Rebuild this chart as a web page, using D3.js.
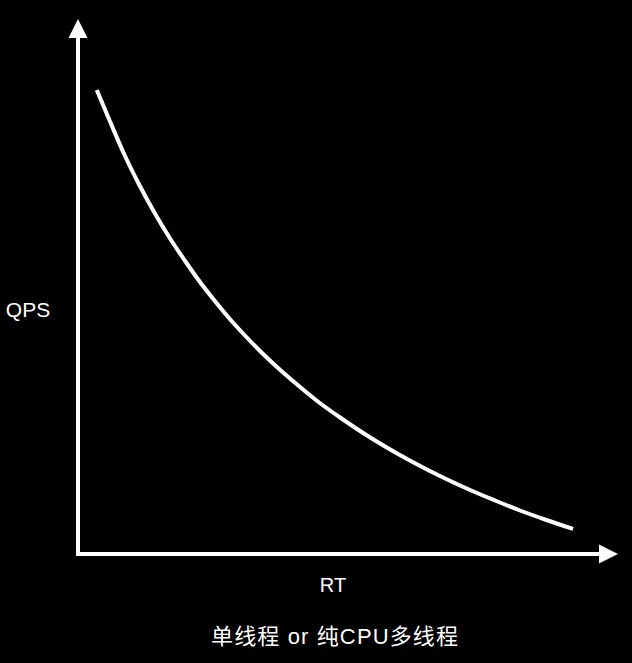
<!DOCTYPE html>
<html>
<head>
<meta charset="utf-8">
<script src="https://cdn.jsdelivr.net/npm/d3@7"></script>
<style>
html,body{margin:0;padding:0;background:#000;}
svg{display:block;}
</style>
</head>
<body>
<svg id="chart" width="632" height="663"></svg>
<script>
// Data (abstract units)
const rtValues  = [3.6, 6.2, 9.0, 11.7, 14.8, 17.7, 20.6, 23.1, 26.4, 29.2, 32.1, 35.0, 38.9, 42.7, 46.5, 50.4, 56.2, 61.9, 65.8, 70.6, 75.4, 80.2, 85.0, 89.8, 95.2];
const qpsValues = [92.8, 86.4, 79.7, 74.0, 68.1, 63.1, 58.6, 54.9, 50.5, 47.0, 43.7, 40.6, 36.8, 33.4, 30.2, 27.3, 23.3, 19.8, 17.6, 15.1, 12.8, 10.7, 8.7, 6.9, 5.0];
const xLabel = "RT";
const yLabel = "QPS";
const caption = "单线程 or 纯CPU多线程";

const svg = d3.select("#chart");
svg.append("rect").attr("width",632).attr("height",663).attr("fill","#000");

const x = d3.scaleLinear().domain([0,100]).range([78,598]);
const y = d3.scaleLinear().domain([0,100]).range([554,54]);

const data = rtValues.map((v,i)=>({rt:v, qps:qpsValues[i]}));

// axes
const axisColor = "#fff";
svg.append("line").attr("x1",x(0)).attr("y1",y(0)+2).attr("x2",x(0)).attr("y2",36)
  .attr("stroke",axisColor).attr("stroke-width",4);
svg.append("line").attr("x1",x(0)-2).attr("y1",y(0)).attr("x2",600).attr("y2",y(0))
  .attr("stroke",axisColor).attr("stroke-width",4);
// arrowheads
svg.append("path").attr("d",`M${x(0)},19 L${x(0)+9.5},38 L${x(0)-9.5},38 Z`).attr("fill",axisColor);
svg.append("path").attr("d",`M618,${y(0)} L599,${y(0)-9.5} L599,${y(0)+9.5} Z`).attr("fill",axisColor);

// curve
const line = d3.line().x(d=>x(d.rt)).y(d=>y(d.qps)).curve(d3.curveMonotoneX);
svg.append("path").datum(data).attr("d",line)
  .attr("fill","none").attr("stroke","#fff").attr("stroke-width",4);

const font = "'Liberation Sans', 'Noto Sans CJK SC', sans-serif";
svg.append("text").attr("x",28).attr("y",317).attr("text-anchor","middle")
  .attr("fill","#fff").attr("font-family",font).attr("font-size",21).text(yLabel);
svg.append("text").attr("x",333).attr("y",592).attr("text-anchor","middle")
  .attr("fill","#fff").attr("font-family",font).attr("font-size",20).text(xLabel);
svg.append("text").attr("x",334.5).attr("y",644).attr("text-anchor","middle")
  .attr("fill","#fff").attr("font-family",font).attr("font-size",22)
  .attr("textLength",247).attr("lengthAdjust","spacing").text(caption);
</script>
</body>
</html>
